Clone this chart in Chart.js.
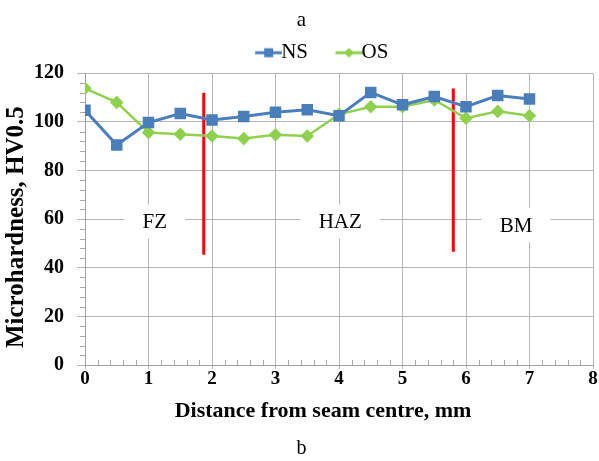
<!DOCTYPE html>
<html>
<head>
<meta charset="utf-8">
<script src="https://cdn.jsdelivr.net/npm/chart.js@4.4.0/dist/chart.umd.min.js"></script>
<style>
  html, body { margin: 0; padding: 0; background: #fff; }
  #wrap { width: 599px; height: 461px; }
</style>
</head>
<body>
<div id="wrap"><canvas id="hardnessChart" width="599" height="461"></canvas></div>
<script>
// distance from seam centre, mm
var distance = [0, 0.5, 1, 1.5, 2, 2.5, 3, 3.5, 4, 4.5, 5, 5.5, 6, 6.5, 7];
var nsValues = [104.8, 90.5, 99.7, 103.4, 100.8, 102.2, 103.9, 105.0, 102.5, 112.1, 107.0, 110.4, 106.2, 110.8, 109.4];
var osValues = [113.8, 108.0, 95.6, 94.9, 94.2, 93.1, 94.7, 94.2, 103.1, 106.2, 106.2, 109.0, 101.5, 104.3, 102.5];

// zone boundaries (red lines) and zone names
var boundaryX = [1.87, 5.8];
var boundaryTop = [112, 113.7];
var boundaryBottom = [45.3, 46.6];
var zoneNames = ['FZ', 'HAZ', 'BM'];
var zoneX = [1.1, 4.02, 6.79];
var zoneY = [59, 59, 57.5];

var xTitle = 'Distance from seam centre, mm';
var yTitle = 'Microhardness, HV0.5';

var serif = "'Liberation Serif', 'Times New Roman', serif";

function toPoints(xs, ys) {
  return xs.map(function (x, i) { return { x: x, y: ys[i] }; });
}

// legend icon: line with a marker in the middle, drawn at the right of a wider canvas
function legendIcon(color, shape) {
  var c = document.createElement('canvas');
  c.width = 59; c.height = 12;
  var g = c.getContext('2d');
  g.strokeStyle = color; g.lineWidth = 3;
  g.beginPath(); g.moveTo(32, 6); g.lineTo(59, 6); g.stroke();
  g.fillStyle = color;
  if (shape === 'square') {
    g.fillRect(41, 1.5, 9, 9);
  } else {
    g.beginPath(); g.moveTo(45.5, 1); g.lineTo(50.5, 6); g.lineTo(45.5, 11); g.lineTo(40.5, 6); g.closePath(); g.fill();
  }
  return c;
}

var datasets = [
  {
    label: 'NS',
    data: toPoints(distance, nsValues),
    borderColor: '#4a7ebb',
    backgroundColor: '#4a7ebb',
    borderWidth: 3,
    pointStyle: 'rect',
    pointRadius: 6,
    pointHoverRadius: 6,
    legendIcon: legendIcon('#4a7ebb', 'square')
  },
  {
    label: 'OS',
    data: toPoints(distance, osValues),
    borderColor: '#8fd14f',
    backgroundColor: '#8fd14f',
    borderWidth: 2.5,
    pointStyle: 'rectRot',
    pointRadius: 5,
    pointHoverRadius: 5,
    legendIcon: legendIcon('#8fd14f', 'diamond')
  }
];

boundaryX.forEach(function (bx, i) {
  datasets.push({
    label: 'boundary' + i,
    data: [{ x: bx, y: boundaryBottom[i] }, { x: bx, y: boundaryTop[i] }],
    borderColor: '#ff0000',
    borderWidth: 3,
    pointRadius: 0,
    pointHoverRadius: 0
  });
});

var extras = {
  id: 'extras',
  afterLayout: function (chart) {
    // Excel put legend and captions a little right of centre
    chart.legend.left += 15;
    chart.legend.right += 15;
    chart.boxes.forEach(function (b) {
      if (b.options && (b.options.text === 'a' || b.options.text === 'b')) {
        b.left += 5;
        b.right += 5;
      }
    });
  },
  beforeDatasetsDraw: function (chart) {
    var ctx = chart.ctx, xs = chart.scales.x, ys = chart.scales.y;
    var area = chart.chartArea;
    ctx.save();
    // minor ticks
    ctx.strokeStyle = '#a6a6a6';
    ctx.lineWidth = 1;
    ctx.beginPath();
    for (var k = 1; k < 40; k++) {
      if (k % 5 === 0) continue;
      var px = Math.round(xs.getPixelForValue(k * 0.2)) + 0.5;
      ctx.moveTo(px, area.bottom);
      ctx.lineTo(px, area.bottom - 5);
    }
    for (var j = 1; j < 30; j++) {
      if (j % 5 === 0) continue;
      var py = Math.round(ys.getPixelForValue(j * 4)) + 0.5;
      ctx.moveTo(area.left - 5, py);
      ctx.lineTo(area.left, py);
    }
    ctx.stroke();
    // zone labels on white boxes
    ctx.font = '21px ' + serif;
    ctx.textAlign = 'center';
    ctx.textBaseline = 'middle';
    zoneNames.forEach(function (name, i) {
      var cx = xs.getPixelForValue(zoneX[i]);
      var cy = ys.getPixelForValue(zoneY[i]);
      var w = ctx.measureText(name).width + 36;
      ctx.fillStyle = '#ffffff';
      ctx.fillRect(cx - w / 2, cy - 17, w, 34);
      ctx.fillStyle = '#000000';
      ctx.fillText(name, cx, cy + 1);
    });
    // axis titles, placed off-centre like the original
    ctx.fillStyle = '#000000';
    ctx.font = 'bold 22px ' + serif;
    ctx.fillText(xTitle, (area.left + area.right) / 2 - 16, area.bottom + 46);
    ctx.translate(17, (area.top + area.bottom) / 2 + 8);
    ctx.rotate(-Math.PI / 2);
    ctx.font = 'bold 25px ' + serif;
    ctx.fillText(yTitle, 0, 0);
    ctx.restore();
  }
};

new Chart(document.getElementById('hardnessChart').getContext('2d'), {
  type: 'line',
  data: { datasets: datasets },
  options: {
    responsive: false,
    animation: false,
    layout: { autoPadding: false, padding: { left: 0, right: 6, top: 0, bottom: 0 } },
    plugins: {
      title: {
        display: true,
        text: 'a',
        color: '#000',
        font: { family: serif, size: 21, weight: 'normal' },
        padding: { top: 8, bottom: 2 }
      },
      subtitle: {
        display: true,
        text: 'b',
        position: 'bottom',
        color: '#000',
        font: { family: serif, size: 20, weight: 'normal' },
        padding: { top: 0, bottom: 0 }
      },
      legend: {
        display: true,
        position: 'top',
        labels: {
          color: '#000',
          font: { family: serif, size: 21, lineHeight: 1.0 },
          usePointStyle: true,
          pointStyleWidth: 36,
          padding: 7,
          filter: function (item) { return item.text === 'NS' || item.text === 'OS'; },
          generateLabels: function (chart) {
            return chart.data.datasets.map(function (ds, i) {
              return {
                text: ds.label,
                pointStyle: ds.legendIcon,
                fillStyle: ds.borderColor,
                strokeStyle: ds.borderColor,
                lineWidth: 0,
                hidden: false,
                datasetIndex: i
              };
            });
          }
        }
      },
      tooltip: { enabled: false }
    },
    scales: {
      x: {
        type: 'linear',
        min: 0,
        max: 8,
        ticks: {
          stepSize: 1,
          color: '#000',
          font: { family: serif, size: 19, weight: 'bold' },
          padding: -1
        },
        grid: { color: '#b5b5b5', lineWidth: 1, tickLength: 4 },
        border: { color: '#a0a0a0' },
        title: { display: false },
        afterFit: function (scale) { scale.height = 72; }
      },
      y: {
        min: 0,
        max: 120,
        ticks: {
          stepSize: 20,
          color: '#000',
          font: { family: serif, size: 20, weight: 'bold' },
          padding: 13
        },
        grid: { color: '#b5b5b5', lineWidth: 1, tickLength: 8 },
        border: { color: '#a0a0a0' },
        title: { display: false },
        afterFit: function (scale) { scale.width = 85; }
      }
    }
  },
  plugins: [extras]
});
</script>
</body>
</html>
